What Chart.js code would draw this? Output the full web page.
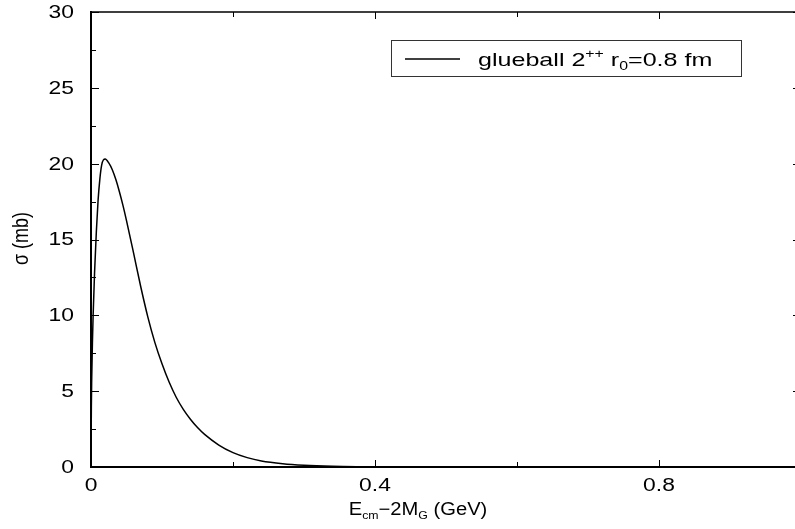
<!DOCTYPE html>
<html>
<head>
<meta charset="utf-8">
<script src="https://cdn.jsdelivr.net/npm/chart.js@4/dist/chart.umd.min.js"></script>
<style>
  html, body { margin: 0; padding: 0; background: #fff; overflow: hidden; }
  #wrap { position: relative; width: 803px; height: 529px; }
  canvas { display: block; }
</style>
</head>
<body>
<div id="wrap"><canvas id="sigma" width="803" height="529"></canvas></div>
<script>
// cross section vs energy above threshold
const energyGeV = [0, 0.0005, 0.001, 0.002, 0.003, 0.005, 0.0075, 0.01, 0.0125, 0.015, 0.0175, 0.02,
  0.025, 0.03, 0.035, 0.04, 0.045, 0.05, 0.06, 0.07, 0.08, 0.09, 0.10, 0.11, 0.12, 0.13, 0.14, 0.15,
  0.16, 0.18, 0.20, 0.22, 0.24, 0.27, 0.30, 0.34, 0.38, 0.42, 0.5, 0.6, 0.8, 1.0];
const sigmaMb = [0, 4.0, 5.8, 8.2, 10.0, 12.8, 15.5, 17.6, 19.0, 19.9, 20.25, 20.3,
  20.05, 19.6, 18.95, 18.15, 17.25, 16.25, 14.1, 11.9, 9.9, 8.2, 6.8, 5.6, 4.6, 3.8, 3.15, 2.6,
  2.15, 1.45, 0.95, 0.62, 0.4, 0.22, 0.12, 0.05, 0.02, 0.005, 0, 0, 0, 0];

const xTickLabels = ['0', '0.4', '0.8'];
const yTickLabels = ['0', '5', '10', '15', '20', '25', '30'];
const xMajor = 0.4, xMinor = 0.2;
const yMajor = 5, yMinor = 2.5;

const FONT = '"Liberation Sans", Arial, Helvetica, sans-serif';
const STRETCH = 1.27; // the figure's lettering is drawn wide

function setFont(ctx, size) {
  ctx.font = size + 'px ' + FONT;
}

// parts: [text, size, dy]
function richWidth(ctx, parts, k) {
  let w = 0;
  for (const [t, size] of parts) {
    setFont(ctx, size);
    w += ctx.measureText(t).width * k;
  }
  return w;
}

function drawRich(ctx, parts, x, y, k) {
  let cx = x;
  for (const [t, size, dy] of parts) {
    ctx.save();
    setFont(ctx, size);
    const w = ctx.measureText(t).width * k;
    ctx.textAlign = 'left';
    ctx.textBaseline = 'alphabetic';
    ctx.translate(cx, y + dy);
    ctx.scale(k, 1);
    ctx.fillText(t, 0, 0);
    ctx.restore();
    cx += w;
  }
}

function drawLabel(ctx, text, x, y, size, align) {
  ctx.save();
  setFont(ctx, size);
  const w = ctx.measureText(text).width * STRETCH;
  let x0 = x;
  if (align === 'right') x0 = x - w;
  if (align === 'center') x0 = x - w / 2;
  ctx.translate(x0, y);
  ctx.scale(STRETCH, 1);
  ctx.textAlign = 'left';
  ctx.textBaseline = 'middle';
  ctx.fillText(text, 0, 0);
  ctx.restore();
}

function isMultiple(v, step) {
  return Math.abs(v / step - Math.round(v / step)) < 1e-6;
}

const framePlugin = {
  id: 'frame',
  afterDraw(chart) {
    const { ctx, chartArea: a, scales } = chart;
    const xs = scales.x, ys = scales.y;
    ctx.save();
    ctx.strokeStyle = '#000';
    ctx.fillStyle = '#000';
    ctx.lineWidth = 1.5;

    // top and right edges of the box
    ctx.beginPath();
    ctx.moveTo(a.left, a.top);
    ctx.lineTo(a.right, a.top);
    ctx.lineTo(a.right, a.bottom);
    ctx.stroke();

    // inward ticks, y
    ctx.lineWidth = 1;
    for (let i = 0; i * yMinor <= ys.max + 1e-9; i++) {
      const v = i * yMinor;
      const py = Math.round(ys.getPixelForValue(v)) + 0.5;
      const len = isMultiple(v, yMajor) ? 8 : 5;
      ctx.beginPath();
      ctx.moveTo(a.left, py); ctx.lineTo(a.left + len, py);
      ctx.moveTo(a.right, py); ctx.lineTo(a.right - len, py);
      ctx.stroke();
    }
    // inward ticks, x
    for (let i = 0; i * xMinor <= xs.max + 1e-9; i++) {
      const v = i * xMinor;
      const px = Math.round(xs.getPixelForValue(v)) + 0.5;
      const len = isMultiple(v, xMajor) ? 7 : 5;
      ctx.beginPath();
      ctx.moveTo(px, a.bottom); ctx.lineTo(px, a.bottom - len);
      ctx.moveTo(px, a.top); ctx.lineTo(px, a.top + len);
      ctx.stroke();
    }

    // tick labels
    yTickLabels.forEach(t => {
      drawLabel(ctx, t, a.left - 17, ys.getPixelForValue(Number(t)) + 1, 18, 'right');
    });
    xTickLabels.forEach(t => {
      drawLabel(ctx, t, xs.getPixelForValue(Number(t)), a.bottom + 19, 18, 'center');
    });

    // axis titles
    const xTitle = [['E', 18, 0], ['cm', 11, 4], ['\u22122M', 18, 0], ['G', 11, 4], [' (GeV)', 18, 0]];
    const xw = richWidth(ctx, xTitle, 1.12);
    drawRich(ctx, xTitle, 418 - xw / 2, 515, 1.12);

    ctx.save();
    ctx.translate(22, (a.top + a.bottom) / 2 - 1);
    ctx.rotate(-Math.PI / 2);
    ctx.scale(1, STRETCH);
    setFont(ctx, 18);
    ctx.textAlign = 'center';
    ctx.textBaseline = 'middle';
    ctx.fillText('\u03c3 (mb)', 0, 0);
    ctx.restore();

    // legend
    const ds = chart.data.datasets[0];
    ctx.lineWidth = 1;
    ctx.strokeStyle = '#333';
    ctx.strokeRect(391.5, 40.5, 350, 36);
    ctx.strokeStyle = ds.borderColor;
    ctx.lineWidth = ds.borderWidth;
    ctx.beginPath();
    ctx.moveTo(405, 59); ctx.lineTo(460, 59);
    ctx.stroke();
    const legendParts = [['glueball 2', 19, 0], ['++', 12, -8], [' r', 19, 0], ['0', 12, 4], ['=0.8 fm', 19, 0]];
    drawRich(ctx, legendParts, 478, 66, 1.32);

    ctx.restore();
  }
};

new Chart(document.getElementById('sigma'), {
  type: 'line',
  data: {
    datasets: [{
      label: 'glueball 2++ r0=0.8 fm',
      data: energyGeV.map((e, i) => ({ x: e, y: sigmaMb[i] })),
      borderColor: '#000',
      borderWidth: 1.5,
      pointRadius: 0,
      cubicInterpolationMode: 'monotone',
      fill: false
    }]
  },
  options: {
    responsive: false,
    animation: false,
    devicePixelRatio: 1,
    layout: { padding: { top: 12, right: 2, left: 0, bottom: 0 } },
    plugins: { legend: { display: false }, tooltip: { enabled: false } },
    scales: {
      x: {
        type: 'linear', min: 0, max: 1,
        ticks: { display: false },
        grid: { display: false, drawTicks: false },
        border: { display: true, color: '#000', width: 2 },
        afterFit(s) { s.height = 62; }
      },
      y: {
        min: 0, max: 30,
        ticks: { display: false },
        grid: { display: false, drawTicks: false },
        border: { display: true, color: '#000', width: 2 },
        afterFit(s) { s.width = 91; }
      }
    }
  },
  plugins: [framePlugin]
});
</script>
</body>
</html>
